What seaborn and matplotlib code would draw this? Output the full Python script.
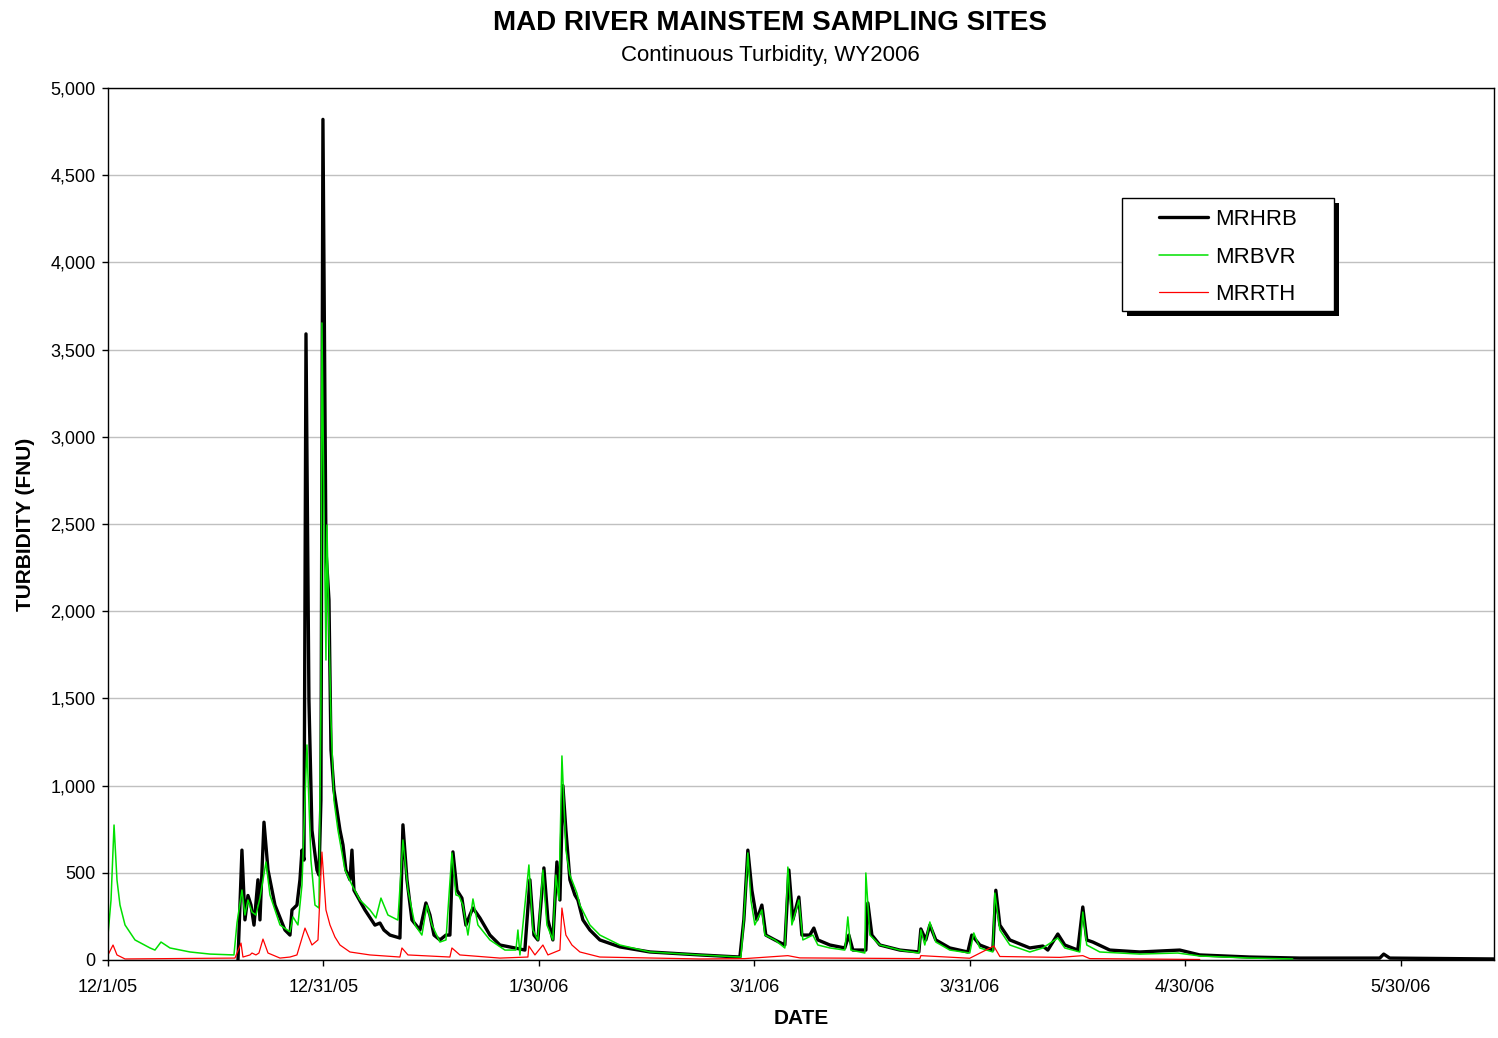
import pandas as pd
import matplotlib.pyplot as plt
from matplotlib.patches import Rectangle
import seaborn as sns

# -----------------------------------------
# Data (days after 12/1/05, turbidity in FNU)
# -----------------------------------------
start = pd.Timestamp("2005-12-01")

mrhrb_day = [18.1, 18.65, 19.07, 19.49, 19.91, 20.33, 20.88, 21.16, 21.72, 22.28,
             23.25, 24.64, 25.34, 25.62, 26.31, 26.73, 27.01, 27.29, 27.57, 27.98,
             28.40, 29.10, 29.38, 29.65, 29.93, 30.35, 30.77, 31.05, 31.46, 31.88,
             32.30, 32.72, 33.13, 33.69, 33.97, 34.25, 35.78, 37.17, 37.87, 38.42,
             39.26, 40.65, 41.07, 41.63, 42.32, 43.44, 44.27, 44.83, 45.39, 46.22,
             47.06, 47.61, 48.03, 48.59, 49.28, 49.84, 50.40, 50.82, 51.79, 53.18,
             54.57, 56.66, 58.05, 58.75, 59.31, 59.86, 60.70, 61.26, 61.95, 62.51,
             62.93, 63.34, 63.76, 64.32, 65.01, 65.43, 66.13, 67.10, 68.49, 71.28,
             75.46, 82.42, 87.99, 88.54, 89.10, 89.66, 90.35, 91.05, 91.60, 92.86,
             94.25, 94.81, 95.36, 96.20, 96.62, 97.73, 98.29, 98.85, 100.52, 102.60,
             103.16, 103.72, 105.53, 105.81, 106.37, 107.48, 110.26, 112.91, 113.19, 113.88,
             114.44, 115.27, 117.22, 119.73, 120.28, 121.40, 123.21, 123.63, 124.19, 125.58,
             128.36, 130.17, 130.87, 132.26, 133.23, 135.04, 135.74, 136.29, 137.13, 139.50,
             143.67, 149.24, 152.03, 158.99, 165.95, 177.09, 177.64, 178.48, 192.96]
mrhrb_fnu = [0, 630, 230, 370, 315, 200, 460, 230, 790, 516,
             315, 172, 143, 287, 315, 460, 630, 573, 3590, 1490,
             745, 516, 487, 917, 4820, 2350, 2065, 1205, 975, 860,
             745, 660, 516, 460, 630, 400, 287, 200, 212, 172,
             143, 126, 775, 460, 230, 172, 327, 258, 143, 115,
             143, 143, 620, 400, 355, 200, 258, 298, 241, 143,
             86, 69, 57, 460, 143, 115, 528, 230, 115, 562,
             344, 1000, 745, 460, 373, 344, 230, 172, 115, 75,
             46, 29, 17, 230, 630, 400, 230, 315, 143, 115,
             86, 516, 230, 361, 143, 143, 183, 115, 86, 69,
             143, 57, 57, 327, 143, 86, 57, 46, 178, 115,
             200, 115, 69, 46, 143, 86, 57, 400, 200, 115,
             69, 80, 57, 149, 86, 57, 304, 115, 103, 57,
             46, 57, 29, 17, 11, 11, 34, 11, 6]

mrbvr_day = [0, 0.42, 0.84, 1.25, 1.67, 2.37, 3.76, 5.85, 6.54, 7.38,
             8.63, 11.42, 14.20, 17.54, 17.96, 18.65, 19.07, 19.49, 20.05, 20.60,
             21.16, 22.00, 22.55, 23.95, 25.34, 25.76, 26.45, 27.01, 27.70, 28.26,
             28.82, 29.38, 29.65, 29.79, 30.07, 30.35, 30.49, 30.77, 31.05, 31.46,
             32.02, 33.00, 33.97, 35.08, 36.48, 37.31, 38.01, 38.98, 40.37, 41.07,
             41.77, 42.74, 43.71, 44.41, 45.11, 46.22, 47.06, 47.89, 48.45, 48.87,
             49.42, 50.12, 50.82, 51.51, 53.18, 55.27, 56.80, 57.08, 57.36, 58.61,
             59.17, 59.86, 60.56, 61.12, 61.95, 62.37, 62.79, 63.21, 63.76, 64.32,
             65.29, 65.71, 67.10, 68.49, 71.28, 75.46, 82.42, 88.13, 88.54, 89.10,
             89.52, 90.07, 91.05, 91.47, 92.86, 94.25, 94.67, 95.23, 96.20, 96.76,
             98.15, 98.85, 100.52, 102.60, 103.02, 103.44, 105.39, 105.53, 106.09, 107.48,
             110.26, 112.91, 113.19, 113.74, 114.44, 115.27, 117.22, 120.00, 120.56, 121.40,
             123.21, 123.49, 124.19, 125.58, 128.36, 130.17, 132.26, 133.23, 135.32, 135.74,
             136.29, 138.10, 143.67, 148.96, 152.03, 158.99, 164.97]
mrbvr_fnu = [143, 344, 774, 459, 315, 201, 115, 69, 57, 103,
             69, 46, 34, 29, 212, 401, 258, 344, 275, 258,
             355, 562, 373, 201, 161, 247, 201, 430, 1233, 573,
             315, 298, 1491, 3653, 2638, 1720, 2494, 1892, 1376, 917,
             745, 516, 430, 344, 287, 241, 355, 258, 229, 688,
             401, 201, 143, 315, 201, 103, 115, 614, 373, 367,
             315, 143, 350, 201, 115, 57, 57, 172, 29, 545,
             172, 115, 516, 201, 115, 487, 344, 1170, 631, 487,
             384, 315, 201, 143, 86, 46, 29, 17, 229, 614,
             344, 201, 287, 143, 115, 69, 533, 201, 344, 115,
             143, 86, 69, 57, 247, 57, 40, 499, 143, 86,
             57, 40, 172, 86, 218, 103, 57, 40, 155, 69,
             46, 384, 172, 86, 46, 69, 126, 69, 46, 275,
             86, 46, 34, 40, 23, 11, 6]

mrrth_day = [0, 0.70, 1.25, 2.37, 17.68, 18.52, 18.79, 19.77, 20.05, 20.60,
             21.02, 21.58, 22.28, 23.95, 25.34, 26.31, 27.43, 28.40, 29.24, 29.79,
             30.35, 30.91, 31.60, 32.30, 33.69, 36.48, 40.65, 40.93, 41.77, 47.61,
             47.89, 49.00, 54.57, 58.47, 58.61, 59.45, 60.56, 61.26, 62.93, 63.21,
             63.76, 64.60, 65.71, 68.49, 82.42, 88.68, 94.67, 96.34, 113.05, 113.19,
             120.00, 123.35, 124.19, 132.54, 135.74, 136.71, 152.03]
mrrth_fnu = [29, 86, 29, 6, 11, 97, 17, 29, 40, 29,
             40, 120, 40, 11, 17, 29, 183, 86, 115, 619,
             287, 201, 132, 86, 46, 29, 17, 69, 29, 17,
             69, 29, 11, 17, 80, 29, 86, 29, 57, 298,
             143, 86, 46, 17, 6, 8, 25, 12, 8, 25,
             10, 80, 20, 15, 25, 8, 3]

tick_dates = ["2005-12-01", "2005-12-31", "2006-01-30", "2006-03-01",
              "2006-03-31", "2006-04-30", "2006-05-30"]
tick_labels = ["12/1/05", "12/31/05", "1/30/06", "3/1/06", "3/31/06", "4/30/06", "5/30/06"]


def to_frame(days, vals):
    return pd.DataFrame({"Date": start + pd.to_timedelta(days, unit="D"), "FNU": vals})


# -----------------------------------------
# Style
# -----------------------------------------
sns.set_theme(style="ticks")
plt.rcParams["font.family"] = ["Liberation Sans", "DejaVu Sans"]
plt.rcParams["text.color"] = "black"
plt.rcParams["axes.labelcolor"] = "black"
plt.rcParams["xtick.color"] = "black"
plt.rcParams["ytick.color"] = "black"

fig = plt.figure(figsize=(14.98, 10.38), dpi=100)
ax = fig.add_axes([108 / 1498, 1 - 960 / 1038, 1386 / 1498, 872 / 1038])

sns.lineplot(data=to_frame(mrhrb_day, mrhrb_fnu), x="Date", y="FNU", color="black",
             lw=2.4, label="MRHRB", estimator=None, ax=ax)
sns.lineplot(data=to_frame(mrbvr_day, mrbvr_fnu), x="Date", y="FNU", color="#00e000",
             lw=1.1, label="MRBVR", estimator=None, ax=ax)
sns.lineplot(data=to_frame(mrrth_day, mrrth_fnu), x="Date", y="FNU", color="#ff0000",
             lw=0.9, label="MRRTH", estimator=None, ax=ax)

ax.set_xlim(start, start + pd.Timedelta(days=193))
ax.set_ylim(0, 5000)
ax.set_yticks(range(0, 5001, 500))
ax.set_yticklabels([f"{v:,}" for v in range(0, 5001, 500)])
ax.set_xticks(pd.to_datetime(tick_dates))
ax.set_xticklabels(tick_labels)
ax.tick_params(axis="both", labelsize=13, length=4, width=1, color="black",
               labelcolor="black")
ax.tick_params(axis="x", pad=10)
ax.tick_params(axis="y", pad=5)
ax.yaxis.grid(True, color="#c0c0c0", lw=1)
ax.set_axisbelow(True)
for s in ax.spines.values():
    s.set_visible(True)
    s.set_color("black")
    s.set_linewidth(1)

ax.set_xlabel("DATE", fontsize=15, fontweight="bold", labelpad=9, color="black")
ax.set_ylabel("TURBIDITY (FNU)", fontsize=15, fontweight="bold", labelpad=11, color="black")

fig.text(0.514, 1 - 23 / 1038, "MAD RIVER MAINSTEM SAMPLING SITES", ha="center",
         va="center", fontsize=20, fontweight="bold", color="black")
fig.text(0.514, 1 - 55 / 1038, "Continuous Turbidity, WY2006", ha="center",
         va="center", fontsize=16, color="black")

# legend box with shadow
handles, labels = ax.get_legend_handles_labels()
ax.get_legend().remove()
fig.add_artist(Rectangle((1127 / 1498, 1 - 316 / 1038), 212 / 1498, 113 / 1038,
                         transform=fig.transFigure, facecolor="black", edgecolor="none",
                         zorder=3))
fig.add_artist(Rectangle((1122 / 1498, 1 - 311 / 1038), 212 / 1498, 113 / 1038,
                         transform=fig.transFigure, facecolor="white", edgecolor="black",
                         lw=1, zorder=4))
leg = fig.legend(handles, labels, loc="center", bbox_to_anchor=(1228 / 1498, 1 - 257 / 1038),
                 frameon=False, fontsize=16, handlelength=2.2, handletextpad=0.3,
                 labelspacing=0.74)
for t in leg.get_texts():
    t.set_color("black")

plt.savefig("out.png", dpi=100)
plt.close()
